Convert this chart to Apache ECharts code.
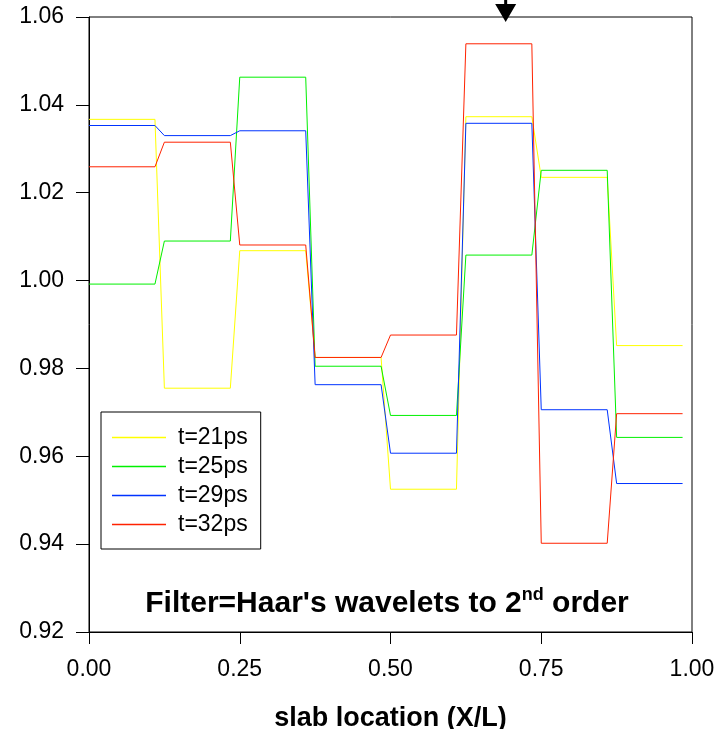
<!DOCTYPE html>
<html>
<head>
<meta charset="utf-8">
<script src="https://cdn.jsdelivr.net/npm/echarts@6/dist/echarts.min.js"></script>
<style>
html,body{margin:0;padding:0;background:#fff;}
#chart{width:719px;height:729px;}
</style>
</head>
<body>
<div id="chart"></div>
<script>
// x positions (X/L) at start and end of each flat block
const xPos = [0, 0.109375, 0.125, 0.234375, 0.25, 0.359375, 0.375, 0.484375,
              0.5, 0.609375, 0.625, 0.734375, 0.75, 0.859375, 0.875, 0.984375];
const seriesNames = ['t=21ps', 't=25ps', 't=29ps', 't=32ps'];
const t21 = [1.0367,1.0367, 0.9755,0.9755, 1.0068,1.0068, 0.9825,0.9825,
             0.9525,0.9525, 1.0373,1.0373, 1.0235,1.0235, 0.9852,0.9852];
const t25 = [0.9992,0.9992, 1.0090,1.0090, 1.0463,1.0463, 0.9805,0.9805,
             0.9693,0.9693, 1.0058,1.0058, 1.0251,1.0251, 0.9643,0.9643];
const t29 = [1.0353,1.0353, 1.0330,1.0330, 1.0341,1.0341, 0.9763,0.9763,
             0.9607,0.9607, 1.0358,1.0358, 0.9706,0.9706, 0.9538,0.9538];
const t32 = [1.0259,1.0259, 1.0315,1.0315, 1.0081,1.0081, 0.9825,0.9825,
             0.9876,0.9876, 1.0539,1.0539, 0.9402,0.9402, 0.9697,0.9697];
const colors = ['#ffff00', '#00f000', '#0033ff', '#ff2200'];
const arrowAt = [0.691];
const xTicks = [0, 0.25, 0.5, 0.75, 1.0];
const yTicks = [0.92, 0.94, 0.96, 0.98, 1.00, 1.02, 1.04, 1.06];

const FONT = 'Liberation Sans, Arial, sans-serif';
const allY = [t21, t25, t29, t32];

const series = allY.map((ys, k) => ({
  name: seriesNames[k],
  type: 'line',
  symbol: 'none',
  data: xPos.map((x, i) => [x, ys[i]]),
  lineStyle: { color: colors[k], width: 1 },
  itemStyle: { color: colors[k] },
  z: 2 + k
}));
series[3].markPoint = {
  symbol: 'path://M9,0 L12,0 L12,4 L21,4 L10.5,22 L0,4 L9,4 Z',
  symbolSize: [21, 22],
  symbolOffset: [0, -6],
  itemStyle: { color: '#000' },
  label: { show: false },
  data: arrowAt.map(a => ({ coord: [a, yTicks[yTicks.length - 1]] }))
};

const chart = echarts.init(document.getElementById('chart'), null, { renderer: 'canvas' });
chart.setOption({
  animation: false,
  backgroundColor: '#fff',
  textStyle: { fontFamily: FONT },
  grid: {
    left: 89, right: 27, top: 17, bottom: 97,
    outerBoundsMode: 'none', containLabel: false,
    show: true, borderColor: '#000', borderWidth: 1, backgroundColor: 'transparent'
  },
  title: {
    text: '{a|Filter=Haar\'s wavelets to 2}{s|nd}{a| order}',
    left: 382, top: 581, textAlign: 'center',
    textStyle: {
      rich: {
        a: { fontFamily: FONT, fontSize: 30, fontWeight: 'bold', color: '#000', lineHeight: 35 },
        s: { fontFamily: FONT, fontSize: 18, fontWeight: 'bold', color: '#000', verticalAlign: 'top', lineHeight: 35 }
      }
    }
  },
  legend: {
    orient: 'vertical',
    left: 101, top: 412,
    padding: [14, 13, 13, 11],
    icon: 'rect',
    itemWidth: 54, itemHeight: 1.5, itemGap: 6,
    borderColor: '#000', borderWidth: 1,
    data: seriesNames,
    textStyle: { fontFamily: FONT, fontSize: 23, color: '#000', lineHeight: 23, padding: [0, 0, 0, 7] }
  },
  xAxis: {
    type: 'value', min: xTicks[0], max: xTicks[xTicks.length - 1], interval: 0.25,
    name: 'slab location (X/L)', nameLocation: 'middle', nameGap: 73,
    nameTextStyle: { fontFamily: FONT, fontSize: 27, fontWeight: 'bold', color: '#000' },
    axisLine: { lineStyle: { color: '#000', width: 1 } },
    axisTick: { inside: false, length: 12, lineStyle: { color: '#000' } },
    axisLabel: { margin: 26, fontFamily: FONT, fontSize: 23, color: '#000',
                 formatter: v => v.toFixed(2) },
    splitLine: { show: false }
  },
  yAxis: {
    type: 'value', min: yTicks[0], max: yTicks[yTicks.length - 1], interval: 0.02,
    axisLine: { lineStyle: { color: '#000', width: 1 } },
    axisTick: { inside: false, length: 13, lineStyle: { color: '#000' } },
    axisLabel: { margin: 25, fontFamily: FONT, fontSize: 23, color: '#000',
                 formatter: v => v.toFixed(2) },
    splitLine: { show: false }
  },
  series: series
});
</script>
</body>
</html>
